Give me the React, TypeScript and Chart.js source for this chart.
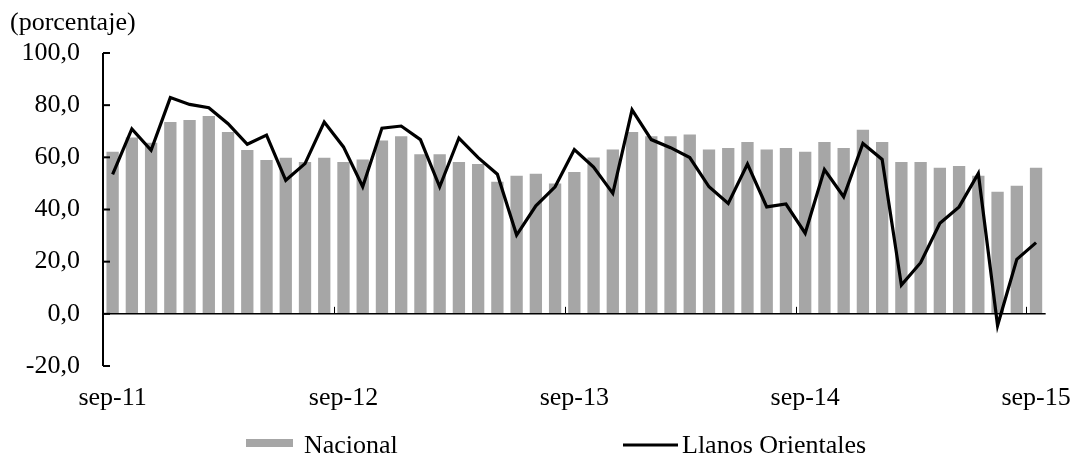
import React, { useRef, useEffect } from "react";
import Chart from "chart.js/auto";

const months = [
  "sep-11", "oct-11", "nov-11", "dic-11", "ene-12", "feb-12", "mar-12", "abr-12", "may-12", "jun-12", "jul-12", "ago-12",
  "sep-12", "oct-12", "nov-12", "dic-12", "ene-13", "feb-13", "mar-13", "abr-13", "may-13", "jun-13", "jul-13", "ago-13",
  "sep-13", "oct-13", "nov-13", "dic-13", "ene-14", "feb-14", "mar-14", "abr-14", "may-14", "jun-14", "jul-14", "ago-14",
  "sep-14", "oct-14", "nov-14", "dic-14", "ene-15", "feb-15", "mar-15", "abr-15", "may-15", "jun-15", "jul-15", "ago-15",
  "sep-15",
];

const nacional = [
  62.1, 67.6, 65.6, 73.5, 74.3, 75.8, 69.7, 62.8, 59.0, 59.8, 58.2, 59.8,
  58.2, 59.2, 66.5, 68.1, 61.2, 61.2, 58.2, 57.4, 50.6, 52.9, 53.7, 50.0,
  54.4, 59.9, 63.0, 69.7, 68.1, 68.1, 68.8, 63.0, 63.6, 65.9, 63.0, 63.6,
  62.1, 65.9, 63.6, 70.6, 65.9, 58.2, 58.2, 56.0, 56.7, 52.9, 46.8, 49.1,
  56.0,
];

const llanosOrientales = [
  53.5, 70.9, 62.7, 82.9, 80.3, 79.0, 72.9, 65.0, 68.5, 51.2, 57.6, 73.5,
  64.0, 48.7, 71.2, 72.0, 66.8, 48.7, 67.4, 59.9, 53.5, 30.2, 41.4, 48.7,
  63.0, 56.3, 46.2, 78.2, 66.8, 63.7, 59.9, 48.7, 42.3, 57.4, 41.0, 42.1,
  30.9, 55.3, 44.9, 65.3, 59.2, 11.0, 19.6, 34.7, 41.0, 53.8, -4.5, 20.9,
  27.3,
];

const yTicks = [-20, 0, 20, 40, 60, 80, 100];
const labelEvery = 12;

const FONT = "'Times New Roman', 'Liberation Serif', serif";
const BAR_COLOR = "#A6A6A6";

const axesPlugin = {
  id: "excelAxes",
  afterDatasetDraw(chart: any, args: any) {
    if (args.index !== 0) return;
    const { ctx, chartArea, scales } = chart;
    const x = scales.x;
    const y = scales.y;
    const y0 = y.getPixelForValue(0);
    ctx.save();
    ctx.strokeStyle = "#000";
    // línea de cero
    ctx.lineWidth = 1.5;
    ctx.beginPath();
    ctx.moveTo(chartArea.left, y0);
    ctx.lineTo(chartArea.right, y0);
    ctx.stroke();
    // marcas anuales
    ctx.lineWidth = 1;
    for (let i = labelEvery; i < months.length; i += labelEvery) {
      const px = Math.round((x.getPixelForValue(i - 1) + x.getPixelForValue(i)) / 2) + 0.5;
      ctx.beginPath();
      ctx.moveTo(px, y0);
      ctx.lineTo(px, y0 - 7);
      ctx.stroke();
    }
    // eje y
    ctx.lineWidth = 2;
    ctx.beginPath();
    ctx.moveTo(chartArea.left, y.getPixelForValue(yTicks[yTicks.length - 1]));
    ctx.lineTo(chartArea.left, y.getPixelForValue(yTicks[0]));
    ctx.stroke();
    for (const v of yTicks) {
      const py = y.getPixelForValue(v);
      ctx.beginPath();
      ctx.moveTo(chartArea.left, py);
      ctx.lineTo(chartArea.left + 7, py);
      ctx.stroke();
    }
    ctx.restore();
  },
  afterDraw(chart: any) {
    const { ctx } = chart;
    ctx.save();
    ctx.fillStyle = "#000";
    ctx.font = `26px ${FONT}`;
    ctx.textBaseline = "alphabetic";
    ctx.textAlign = "left";
    ctx.fillText("(porcentaje)", 10, 30);
    // leyenda
    ctx.fillStyle = BAR_COLOR;
    ctx.fillRect(246, 439, 47, 8);
    ctx.fillStyle = "#000";
    ctx.fillText("Nacional", 304, 453);
    ctx.strokeStyle = "#000";
    ctx.lineWidth = 3;
    ctx.beginPath();
    ctx.moveTo(623, 445);
    ctx.lineTo(678, 445);
    ctx.stroke();
    ctx.fillText("Llanos Orientales", 682, 453);
    ctx.restore();
  },
};

const App: React.FC = () => {
  const canvasRef = useRef<HTMLCanvasElement>(null);
  const chartInstance = useRef<Chart | null>(null);

  useEffect(() => {
    if (!canvasRef.current) return;
    const ctx = canvasRef.current.getContext("2d");
    if (!ctx) return;

    if (chartInstance.current) {
      chartInstance.current.destroy();
    }

    chartInstance.current = new Chart(ctx, {
      type: "bar",
      data: {
        labels: months,
        datasets: [
          {
            type: "bar",
            label: "Nacional",
            data: nacional,
            backgroundColor: BAR_COLOR,
            borderWidth: 0,
            categoryPercentage: 1,
            barPercentage: 0.64,
            order: 1,
          },
          {
            type: "line",
            label: "Llanos Orientales",
            data: llanosOrientales,
            borderColor: "#000",
            borderWidth: 3.2,
            pointRadius: 0,
            tension: 0,
            fill: false,
            order: 0,
          },
        ] as any,
      },
      options: {
        animation: false,
        responsive: true,
        maintainAspectRatio: false,
        layout: {
          padding: { left: 0, right: 29, top: 53, bottom: 30 },
        },
        scales: {
          x: {
            offset: true,
            grid: { display: false, offset: true, drawTicks: false },
            border: { display: false },
            afterFit: (scale: any) => {
              scale.height = 60;
            },
            ticks: {
              autoSkip: false,
              maxRotation: 0,
              minRotation: 0,
              padding: 17,
              color: "#000",
              font: { family: FONT, size: 26 },
              callback: (_v: any, i: number) => (i % labelEvery === 0 ? months[i] : ""),
            },
          },
          y: {
            min: -20,
            max: 100,
            grid: { display: false, drawTicks: false },
            border: { display: false },
            afterFit: (scale: any) => {
              scale.width = 103;
            },
            ticks: {
              stepSize: 20,
              padding: 23,
              color: "#000",
              font: { family: FONT, size: 26 },
              callback: (v: any) => Number(v).toFixed(1).replace(".", ","),
            },
          },
        },
        plugins: {
          legend: { display: false },
          tooltip: { enabled: false },
        },
      },
      plugins: [axesPlugin],
    });

    return () => {
      if (chartInstance.current) {
        chartInstance.current.destroy();
        chartInstance.current = null;
      }
    };
  }, []);

  return (
    <div style={{ position: "absolute", left: 0, top: 0, width: 1088, height: 456, background: "#fff" }}>
      <canvas ref={canvasRef}></canvas>
    </div>
  );
};

export default App;
